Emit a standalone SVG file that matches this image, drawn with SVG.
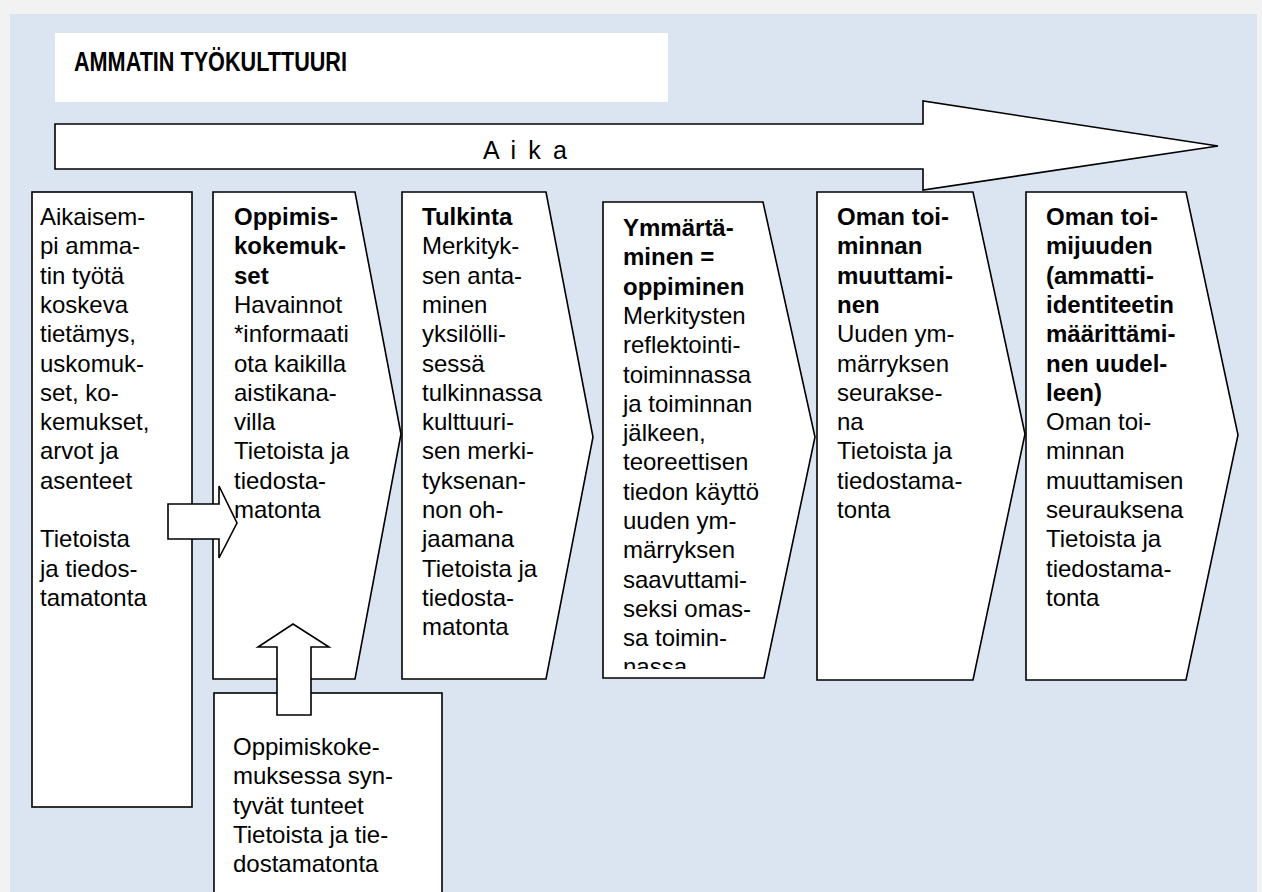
<svg xmlns="http://www.w3.org/2000/svg" width="1262" height="892" viewBox="0 0 1262 892">
<style>
.box{fill:#fff;stroke:#000;stroke-width:1.6;stroke-linejoin:miter}
.t{font-family:"Liberation Sans",Arial,sans-serif;font-size:24px;fill:#000}
.b{font-weight:bold}
</style>
<defs>
<clipPath id="c4"><rect x="603" y="202" width="215" height="467"/></clipPath>
</defs>
<rect x="0" y="0" width="1262" height="892" fill="#f2f2f2"/>
<rect x="10" y="14" width="1247" height="878" fill="#dbe5f1"/>

<g id="title">
<rect x="55" y="33" width="613" height="69" fill="#fff"/>
<text x="74" y="71" class="t b" style="font-size:27px" textLength="273" lengthAdjust="spacingAndGlyphs">AMMATIN TYÖKULTTUURI</text>
</g>

<g id="aika">
<polygon class="box" points="55,124 923,124 923,101 1218,146 923,190 923,169 55,169"/>
<text x="483" y="159" class="t" style="font-size:25px" textLength="84" lengthAdjust="spacing">A i k a</text>
</g>

<g id="col1">
<rect class="box" x="32" y="192" width="160" height="615"/>
<text class="t" x="40" y="225">
<tspan x="40" dy="0">Aikaisem-</tspan>
<tspan x="40" dy="29.3">pi amma-</tspan>
<tspan x="40" dy="29.3">tin työtä</tspan>
<tspan x="40" dy="29.3">koskeva</tspan>
<tspan x="40" dy="29.3">tietämys,</tspan>
<tspan x="40" dy="29.3">uskomuk-</tspan>
<tspan x="40" dy="29.3">set, ko-</tspan>
<tspan x="40" dy="29.3">kemukset,</tspan>
<tspan x="40" dy="29.3">arvot ja</tspan>
<tspan x="40" dy="29.3">asenteet</tspan>
<tspan x="40" dy="58.6">Tietoista</tspan>
<tspan x="40" dy="29.3">ja tiedos-</tspan>
<tspan x="40" dy="29.3">tamatonta</tspan>
</text>
</g>

<g id="col2">
<polygon class="box" points="213,192 355,192 401,434 355,679 213,679"/>
<text class="t" x="234" y="225">
<tspan x="234" dy="0" class="b">Oppimis-</tspan>
<tspan x="234" dy="29.3" class="b">kokemuk-</tspan>
<tspan x="234" dy="29.3" class="b">set</tspan>
<tspan x="234" dy="29.3">Havainnot</tspan>
<tspan x="234" dy="29.3">*informaati</tspan>
<tspan x="234" dy="29.3">ota kaikilla</tspan>
<tspan x="234" dy="29.3">aistikana-</tspan>
<tspan x="234" dy="29.3">villa</tspan>
<tspan x="234" dy="29.3">Tietoista ja</tspan>
<tspan x="234" dy="29.3">tiedosta-</tspan>
<tspan x="234" dy="29.3">matonta</tspan>
</text>
</g>

<g id="col3">
<polygon class="box" points="402,192 546,192 593,437 546,679 402,679"/>
<text class="t" x="422" y="225">
<tspan x="422" dy="0" class="b">Tulkinta</tspan>
<tspan x="422" dy="29.3">Merkityk-</tspan>
<tspan x="422" dy="29.3">sen anta-</tspan>
<tspan x="422" dy="29.3">minen</tspan>
<tspan x="422" dy="29.3">yksilölli-</tspan>
<tspan x="422" dy="29.3">sessä</tspan>
<tspan x="422" dy="29.3">tulkinnassa</tspan>
<tspan x="422" dy="29.3">kulttuuri-</tspan>
<tspan x="422" dy="29.3">sen merki-</tspan>
<tspan x="422" dy="29.3">tyksenan-</tspan>
<tspan x="422" dy="29.3">non oh-</tspan>
<tspan x="422" dy="29.3">jaamana</tspan>
<tspan x="422" dy="29.3">Tietoista ja</tspan>
<tspan x="422" dy="29.3">tiedosta-</tspan>
<tspan x="422" dy="29.3">matonta</tspan>
</text>
</g>

<g id="col4">
<polygon class="box" points="603,202 763,202 815,437 764,678 603,678"/>
<text class="t" x="623" y="236" clip-path="url(#c4)">
<tspan x="623" dy="0" class="b">Ymmärtä-</tspan>
<tspan x="623" dy="29.3" class="b">minen =</tspan>
<tspan x="623" dy="29.3" class="b">oppiminen</tspan>
<tspan x="623" dy="29.3">Merkitysten</tspan>
<tspan x="623" dy="29.3">reflektointi-</tspan>
<tspan x="623" dy="29.3">toiminnassa</tspan>
<tspan x="623" dy="29.3">ja toiminnan</tspan>
<tspan x="623" dy="29.3">jälkeen,</tspan>
<tspan x="623" dy="29.3">teoreettisen</tspan>
<tspan x="623" dy="29.3">tiedon käyttö</tspan>
<tspan x="623" dy="29.3">uuden ym-</tspan>
<tspan x="623" dy="29.3">märryksen</tspan>
<tspan x="623" dy="29.3">saavuttami-</tspan>
<tspan x="623" dy="29.3">seksi omas-</tspan>
<tspan x="623" dy="29.3">sa toimin-</tspan>
<tspan x="623" dy="29.3">nassa</tspan>
</text>
</g>

<g id="col5">
<polygon class="box" points="817,192 973,192 1025,434 973,680 817,680"/>
<text class="t" x="837" y="225">
<tspan x="837" dy="0" class="b">Oman toi-</tspan>
<tspan x="837" dy="29.3" class="b">minnan</tspan>
<tspan x="837" dy="29.3" class="b">muuttami-</tspan>
<tspan x="837" dy="29.3" class="b">nen</tspan>
<tspan x="837" dy="29.3">Uuden ym-</tspan>
<tspan x="837" dy="29.3">märryksen</tspan>
<tspan x="837" dy="29.3">seurakse-</tspan>
<tspan x="837" dy="29.3">na</tspan>
<tspan x="837" dy="29.3">Tietoista ja</tspan>
<tspan x="837" dy="29.3">tiedostama-</tspan>
<tspan x="837" dy="29.3">tonta</tspan>
</text>
</g>

<g id="col6">
<polygon class="box" points="1026,192 1186,192 1238,435 1186,680 1026,680"/>
<text class="t" x="1046" y="225">
<tspan x="1046" dy="0" class="b">Oman toi-</tspan>
<tspan x="1046" dy="29.3" class="b">mijuuden</tspan>
<tspan x="1046" dy="29.3" class="b">(ammatti-</tspan>
<tspan x="1046" dy="29.3" class="b">identiteetin</tspan>
<tspan x="1046" dy="29.3" class="b">määrittämi-</tspan>
<tspan x="1046" dy="29.3" class="b">nen uudel-</tspan>
<tspan x="1046" dy="29.3" class="b">leen)</tspan>
<tspan x="1046" dy="29.3">Oman toi-</tspan>
<tspan x="1046" dy="29.3">minnan</tspan>
<tspan x="1046" dy="29.3">muuttamisen</tspan>
<tspan x="1046" dy="29.3">seurauksena</tspan>
<tspan x="1046" dy="29.3">Tietoista ja</tspan>
<tspan x="1046" dy="29.3">tiedostama-</tspan>
<tspan x="1046" dy="29.3">tonta</tspan>
</text>
</g>

<g id="tunteet">
<rect class="box" x="214" y="693" width="228" height="210"/>
<text class="t" x="233" y="755">
<tspan x="233" dy="0">Oppimiskoke-</tspan>
<tspan x="233" dy="29.3">muksessa syn-</tspan>
<tspan x="233" dy="29.3">tyvät tunteet</tspan>
<tspan x="233" dy="29.3">Tietoista ja tie-</tspan>
<tspan x="233" dy="29.3">dostamatonta</tspan>
</text>
</g>

<g id="connectors">
<polygon class="box" points="168,504 219,504 219,486 237,523 219,558 219,539 168,539"/>
<polygon class="box" points="277,715 277,647 258,647 293,624 329,647 311,647 311,715"/>
</g>
</svg>
